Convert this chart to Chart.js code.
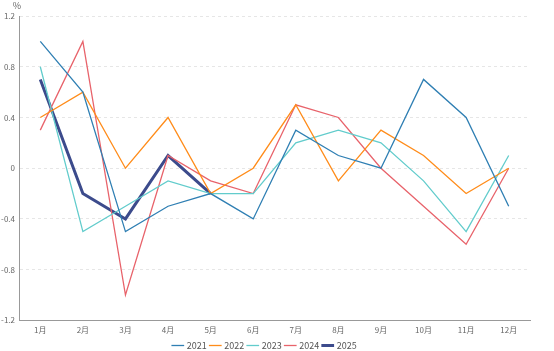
<!DOCTYPE html>
<html>
<head>
<meta charset="utf-8">
<script src="https://cdn.jsdelivr.net/npm/chart.js@4/dist/chart.umd.min.js"></script>
<style>
  html, body { margin: 0; padding: 0; background: #fff; }
  #wrap { width: 554px; height: 351px; position: relative; }
</style>
</head>
<body>
<div id="wrap"><canvas id="c"></canvas></div>
<script>
const meses = ['1月', '2月', '3月', '4月', '5月', '6月', '7月', '8月', '9月', '10月', '11月', '12月'];
const v2021 = [1.0, 0.6, -0.5, -0.3, -0.2, -0.4, 0.3, 0.1, 0.0, 0.7, 0.4, -0.3];
const v2022 = [0.4, 0.6, 0.0, 0.4, -0.2, 0.0, 0.5, -0.1, 0.3, 0.1, -0.2, 0.0];
const v2023 = [0.8, -0.5, -0.3, -0.1, -0.2, -0.2, 0.2, 0.3, 0.2, -0.1, -0.5, 0.1];
const v2024 = [0.3, 1.0, -1.0, 0.1, -0.1, -0.2, 0.5, 0.4, 0.0, -0.3, -0.6, 0.0];
const v2025 = [0.7, -0.2, -0.4, 0.1, -0.2];
const yTicks = [-1.2, -0.8, -0.4, 0, 0.4, 0.8, 1.2];

const fonte = "'Noto Sans CJK SC', 'Noto Sans', sans-serif";

function serie(label, dados, cor, largura) {
  return {
    label,
    data: dados,
    borderColor: cor,
    backgroundColor: cor,
    borderWidth: largura,
    pointRadius: 0,
    pointHoverRadius: 0,
    tension: 0,
    fill: false,
  };
}

const unidade = {
  id: 'unidade',
  afterDraw(chart) {
    const ctx = chart.ctx;
    ctx.save();
    ctx.font = '9px ' + fonte;
    ctx.fillStyle = '#666';
    ctx.textAlign = 'center';
    ctx.textBaseline = 'middle';
    ctx.fillText('%', chart.scales.y.right - 2, 6);
    ctx.restore();
  }
};

new Chart(document.getElementById('c'), {
  type: 'line',
  data: {
    labels: meses,
    datasets: [
      serie('2021', v2021, '#2f7fb3', 1.3),
      serie('2022', v2022, '#ff8c1a', 1.3),
      serie('2023', v2023, '#62cccc', 1.3),
      serie('2024', v2024, '#e8636b', 1.3),
      serie('2025', v2025, '#3c4b8c', 3),
    ],
  },
  options: {
    responsive: true,
    maintainAspectRatio: false,
    animation: false,
    layout: { padding: { top: 16, right: 24, left: 0, bottom: -9 } },
    plugins: {
      tooltip: { enabled: false },
      legend: {
        position: 'bottom',
        labels: {
          font: { size: 9, family: fonte },
          color: '#555',
          usePointStyle: true,
          pointStyle: 'line',
          boxWidth: 12,
          padding: 4,
        },
      },
    },
    scales: {
      x: {
        type: 'category',
        offset: true,
        grid: { display: false, drawTicks: true, tickLength: 3 },
        border: { color: '#999', width: 1 },
        ticks: {
          font: { size: 8, family: fonte },
          color: '#666',
          maxRotation: 0,
          autoSkip: false,
          padding: 2,
        },
      },
      y: {
        min: -1.2,
        max: 1.2,
        afterBuildTicks(scale) {
          scale.ticks = yTicks.map(v => ({ value: v }));
        },
        afterFit(scale) { scale.width = 19; },
        grid: {
          color: '#e6e6e6',
          drawTicks: false,
        },
        border: { color: '#999', width: 1, dash: [3, 3] },
        ticks: {
          font: { size: 8, family: fonte },
          color: '#666',
          padding: 4,
          callback: (v) => (v === 0 ? '0' : v.toFixed(1)),
        },
      },
    },
  },
  plugins: [unidade],
});
</script>
</body>
</html>
